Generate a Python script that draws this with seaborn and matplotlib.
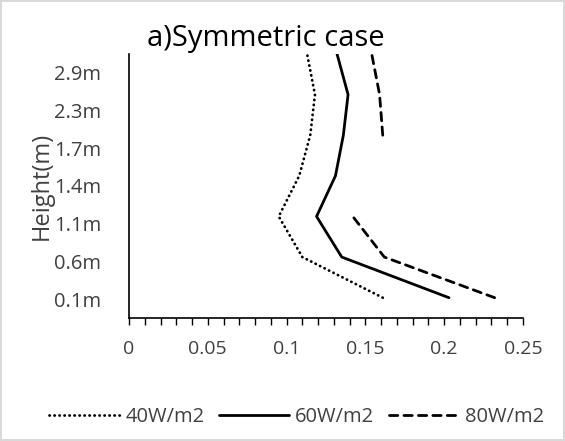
import numpy as np
import pandas as pd
import matplotlib
matplotlib.use("Agg")
import matplotlib.pyplot as plt
import seaborn as sns

# data
heights = ["0.1m", "0.6m", "1.1m", "1.4m", "1.7m", "2.3m", "2.9m"]
w40 = [0.161, 0.110, 0.095, 0.108, 0.115, 0.118, 0.113]
w60 = [0.203, 0.135, 0.119, 0.131, 0.136, 0.139, 0.132]
w80 = [0.232, 0.162, 0.142, np.nan, 0.161, 0.159, 0.154]
series_names = ["40W/m2", "60W/m2", "80W/m2"]
xticks = [0, 0.05, 0.1, 0.15, 0.2, 0.25]
xtick_labels = ["0", "0.05", "0.1", "0.15", "0.2", "0.25"]

sns.set_style("white")
plt.rcParams["font.family"] = ["Open Sans", "DejaVu Sans"]

# long table, gaps split into separate units
rows = []
for name, vals in zip(series_names, [w40, w60, w80]):
    seg = 0
    for i, v in enumerate(vals):
        if np.isnan(v):
            seg += 1
            continue
        rows.append({"power": name, "pos": i, "value": v, "unit": f"{name}_{seg}"})
df = pd.DataFrame(rows)

fig, ax = plt.subplots(figsize=(5.65, 4.41), dpi=100)
fig.subplots_adjust(left=0.2283, right=0.9257, top=0.8776, bottom=0.2789)
fig.patch.set_edgecolor("#d9d9d9")
fig.patch.set_linewidth(1.5)

sns.lineplot(data=df, x="value", y="pos", style="power", units="unit",
             estimator=None, sort=False, color="black", linewidth=2.0,
             dashes={"40W/m2": (0.1, 1.7), "60W/m2": "", "80W/m2": (3.0, 2.2)},
             dash_capstyle="round", ax=ax)

ax.set_xlim(0, 0.25)
ax.set_ylim(-0.5, 6)
ax.set_xticks(xticks)
ax.set_xticklabels(xtick_labels, fontsize=14, color="#404040")
ax.set_xticks(np.arange(0, 0.2501, 0.01), minor=True)
ax.tick_params(axis="x", which="both", direction="out", length=5, width=1,
               color="black", bottom=True, pad=11)
band = 6.5 / len(heights)
ax.set_yticks([-0.5 + (k + 0.5) * band for k in range(len(heights))])
ax.set_yticklabels(heights, fontsize=14.5, color="#404040")
ax.tick_params(axis="y", length=0, pad=20)
ax.set_xlabel("")
ax.set_ylabel("Height(m)", fontsize=17, color="#404040", labelpad=0)
sns.despine(ax=ax)
for s in ["left", "bottom"]:
    ax.spines[s].set_color("black")
    ax.spines[s].set_linewidth(1.2)

fig.text(0.471, 0.913, "a)Symmetric case", fontsize=21, ha="center",
         va="center", color="black")

handles, labels = ax.get_legend_handles_labels()
ax.get_legend().remove()
fig.legend(handles, labels, loc="center", bbox_to_anchor=(0.525, 0.055), ncol=3,
           frameon=False, fontsize=14.5, handlelength=3.5, handletextpad=0.3,
           columnspacing=0.7, labelcolor="#404040")

fig.savefig("out.png", dpi=100)
